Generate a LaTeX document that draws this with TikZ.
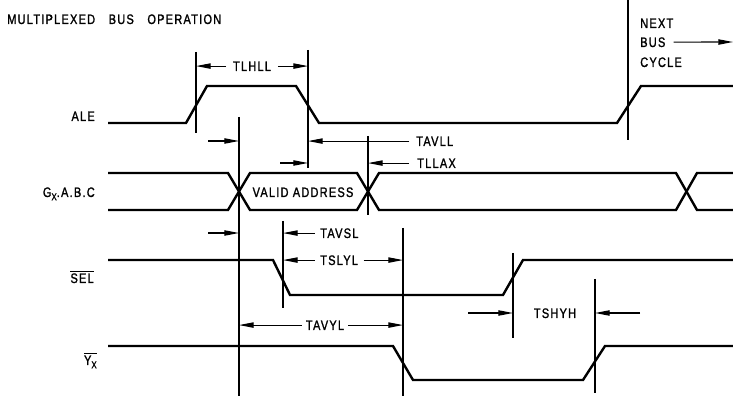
\documentclass[tikz,border=0pt]{standalone}
\usepackage{fontspec}
\setmainfont{Liberation Sans}[FakeStretch=0.8,LetterSpace=9,FakeBold=1.3]
\usetikzlibrary{arrows.meta}
\begin{document}
\begin{tikzpicture}[x=0.75pt,y=-0.75pt,
  sig/.style={line width=1.8pt, line join=miter},
  ref/.style={line width=1pt},
  dim/.style={line width=0.8pt,-{Triangle[length=11pt,width=4pt]}},
  lbl/.style={font=\fontsize{10.3}{12}\selectfont, inner sep=0pt},
]
\useasboundingbox (0,0) rectangle (733,399);

% title
\node[lbl,anchor=base west] (title) at (7,24) {MULTIPLEXED\hspace{7pt} BUS\hspace{7pt} OPERATION};

% signal labels
\node[lbl,anchor=base east] (ale) at (95,121) {ALE};
\node[lbl,anchor=base east] (gx) at (95,197) {G\raisebox{-2.5pt}{\fontsize{7.5}{8}\selectfont X}.A.B.C};
\node[lbl,anchor=base east] (sel) at (94,283) {$\overline{\hbox{SEL}}$};
\node[lbl,anchor=base east] (yx) at (97,365) {$\overline{\hbox{Y\raisebox{-2.5pt}{\fontsize{7.5}{8}\selectfont X}}}$};

% waveforms
\draw[sig] (108,123) -- (186,123) -- (207,86) -- (296,86) -- (319,123) -- (617,123) -- (641,86) -- (733,86);
\draw[sig] (108,173) -- (228,173) -- (250,210) -- (357,210) -- (379,173) -- (676,173) -- (697,210) -- (733,210);
\draw[sig] (108,210) -- (228,210) -- (250,173) -- (357,173) -- (379,210) -- (676,210) -- (697,173) -- (733,173);
\draw[sig] (108,260) -- (273,260) -- (290,295) -- (503,295) -- (523,260) -- (733,260);
\draw[sig] (108,346) -- (393,346) -- (413,380) -- (583,380) -- (605,346) -- (733,346);

\node[lbl,anchor=base] (valid) at (303,197) {VALID ADDRESS};

% reference lines
\coordinate (v1t) at (196,52);  \coordinate (v1b) at (196,133);
\coordinate (v2t) at (308,50);  \coordinate (v2b) at (308,168);
\coordinate (v3t) at (239,117); \coordinate (v3b) at (239,396);
\coordinate (v4t) at (368,136); \coordinate (v4b) at (368,215);
\coordinate (v5t) at (283,221); \coordinate (v5b) at (283,308);
\coordinate (v6t) at (403,228); \coordinate (v6b) at (403,396);
\coordinate (v7t) at (513,253); \coordinate (v7b) at (513,338);
\coordinate (v8t) at (595,279); \coordinate (v8b) at (595,393);
\coordinate (v9t) at (628,0);   \coordinate (v9b) at (628,140);
\foreach \i in {1,...,9} {\draw[ref] (v\i t) -- (v\i b);}

% TLHLL
\node[lbl,anchor=base] (tlhll) at (252,71) {TLHLL};
\draw[dim] ([xshift=-5pt,yshift=3.7pt]tlhll.base west) -- ([yshift=3.7pt]tlhll.base west -| v1t);
\draw[dim] ([xshift=5pt,yshift=3.7pt]tlhll.base east) -- ([yshift=3.7pt]tlhll.base east -| v2t);

% left-side incoming arrows
\coordinate (a1) at (208,141);
\draw[dim] (a1) -- (a1 -| v3t);
\coordinate (a2) at (280,163);
\draw[dim] (a2) -- (a2 -| v2t);
\coordinate (a3) at (208,233);
\draw[dim] (a3) -- (a3 -| v3t);

% TAVLL
\node[lbl,anchor=base west] (tavll) at (416,146) {TAVLL};
\draw[dim] ([xshift=-5pt,yshift=3.7pt]tavll.base west) -- ([yshift=3.7pt]tavll.base west -| v2t);
% TLLAX
\node[lbl,anchor=base west] (tllax) at (417,168) {TLLAX};
\draw[dim] ([xshift=-6pt,yshift=3.7pt]tllax.base west) -- ([yshift=3.7pt]tllax.base west -| v4t);

% TAVSL
\node[lbl,anchor=base west] (tavsl) at (320,238) {TAVSL};
\draw[dim] ([xshift=-4pt,yshift=3.7pt]tavsl.base west) -- ([yshift=3.7pt]tavsl.base west -| v5t);
% TSLYL
\node[lbl,anchor=base west] (tslyl) at (320,265) {TSLYL};
\draw[dim] ([xshift=-4pt,yshift=3.7pt]tslyl.base west) -- ([yshift=3.7pt]tslyl.base west -| v5t);
\draw[dim] ([xshift=4pt,yshift=3.7pt]tslyl.base east) -- ([yshift=3.7pt]tslyl.base east -| v6t);

% TAVYL
\node[lbl,anchor=base] (tavyl) at (325,330) {TAVYL};
\draw[dim] ([xshift=-3pt,yshift=3.7pt]tavyl.base west) -- ([yshift=3.7pt]tavyl.base west -| v3t);
\draw[dim] ([xshift=3pt,yshift=3.7pt]tavyl.base east) -- ([yshift=3.7pt]tavyl.base east -| v6t);

% TSHYH
\node[lbl,anchor=base] (tshyh) at (555,318) {TSHYH};
\coordinate (a4) at (468,313);
\draw[dim] (a4) -- (a4 -| v7t);
\coordinate (a5) at (640,313);
\draw[dim] (a5) -- (a5 -| v8t);

% next bus cycle
\node[lbl,anchor=base west] (next) at (640,28) {NEXT};
\node[lbl,anchor=base west] (bus) at (640,47) {BUS};
\node[lbl,anchor=base west] (cycle) at (640,67) {CYCLE};
\coordinate (nbend) at (733,42);
\draw[dim] ([xshift=6pt,yshift=3.7pt]bus.base east) -- (nbend);
\end{tikzpicture}
\end{document}
